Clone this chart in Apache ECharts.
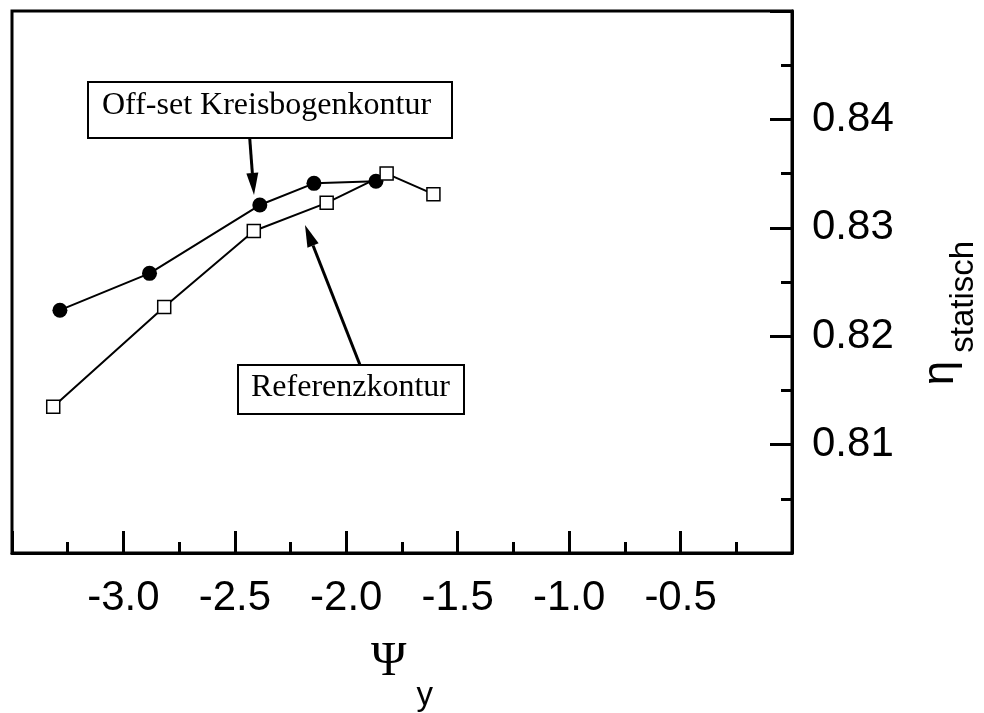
<!DOCTYPE html>
<html>
<head>
<meta charset="utf-8">
<script src="https://cdn.jsdelivr.net/npm/echarts@6/dist/echarts.min.js"></script>
<style>
  html, body { margin: 0; padding: 0; background: #fff; }
  #chart { width: 984px; height: 713px; }
</style>
</head>
<body>
<div id="chart"></div>
<script>
// Static efficiency versus the flow coefficient Psi_y for two blade contours
const offsetPsi = [-3.285, -2.883, -2.388, -2.145, -1.867];
const offsetEta = [0.8224, 0.8258, 0.8321, 0.8341, 0.8343];

const refPsi = [-3.315, -2.817, -2.415, -2.088, -1.819, -1.609];
const refEta = [0.8135, 0.8227, 0.8297, 0.8323, 0.8350, 0.8331];

// Axis ranges and tick spacing
const xRange = [-3.5, 0];
const xStep = 0.5;
const yRange = [0.80, 0.85];
const yStep = 0.01;

const SANS = '"Liberation Sans", Arial, sans-serif';
const SERIF = '"Liberation Serif", "Times New Roman", serif';

const zip = (xs, ys) => xs.map((x, i) => [x, ys[i]]);

const chart = echarts.init(document.getElementById('chart'), null, { renderer: 'canvas' });

const tickStyle = { color: '#000', width: 3 };

chart.setOption({
  animation: false,
  backgroundColor: '#fff',
  grid: {
    left: 12, right: 192, top: 11, bottom: 160,
    show: true, borderColor: '#000', borderWidth: 3,
    containLabel: false, outerBoundsMode: 'none'
  },
  xAxis: {
    type: 'value',
    min: xRange[0], max: xRange[1], interval: xStep,
    position: 'bottom',
    axisLine: { lineStyle: { color: '#000', width: 3 } },
    axisTick: { inside: true, length: 22, lineStyle: tickStyle },
    minorTick: { show: true, splitNumber: 2, length: 11, lineStyle: tickStyle },
    splitLine: { show: false },
    minorSplitLine: { show: false },
    axisLabel: {
      showMinLabel: false, showMaxLabel: false,
      formatter: v => v.toFixed(1),
      fontSize: 42, fontFamily: SANS, color: '#000', margin: 24
    },
    name: '{a|Ψ}{b|y}',
    nameLocation: 'middle',
    nameGap: 85,
    nameTextStyle: {
      rich: {
        a: { fontSize: 48, fontFamily: SERIF, color: '#000', verticalAlign: 'top', lineHeight: 48 },
        b: { fontSize: 33, fontFamily: SANS, color: '#000', verticalAlign: 'top', lineHeight: 33, padding: [41, 0, 0, 10] }
      }
    }
  },
  yAxis: {
    type: 'value',
    min: yRange[0], max: yRange[1], interval: yStep,
    position: 'right',
    axisLine: { show: true, lineStyle: { color: '#000', width: 3 } },
    axisTick: { show: true, inside: true, length: 22, lineStyle: tickStyle },
    minorTick: { show: true, splitNumber: 2, length: 11, lineStyle: tickStyle },
    splitLine: { show: false },
    minorSplitLine: { show: false },
    axisLabel: {
      showMinLabel: false, showMaxLabel: false,
      formatter: v => v.toFixed(2),
      fontSize: 42, fontFamily: SANS, color: '#000', margin: 20
    },
    name: '{a|η}{b|statisch}',
    nameLocation: 'middle',
    nameRotate: 90,
    nameGap: 127,
    nameTextStyle: {
      rich: {
        a: { fontSize: 44, fontFamily: SANS, color: '#000', verticalAlign: 'top', lineHeight: 44, padding: [0, 8, 0, 0] },
        b: { fontSize: 33, fontFamily: SANS, color: '#000', verticalAlign: 'top', lineHeight: 33, padding: [28, 62, 0, 0] }
      }
    }
  },
  series: [
    {
      name: 'Off-set Kreisbogenkontur',
      type: 'line',
      data: zip(offsetPsi, offsetEta),
      symbol: 'circle',
      symbolSize: 15,
      itemStyle: { color: '#000' },
      lineStyle: { color: '#000', width: 2 },
      z: 2
    },
    {
      name: 'Referenzkontur',
      type: 'line',
      data: zip(refPsi, refEta),
      symbol: 'rect',
      symbolSize: 13,
      itemStyle: { color: '#fff', borderColor: '#000', borderWidth: 1.5 },
      lineStyle: { color: '#000', width: 2 },
      z: 3
    }
  ]
});

// Annotation callouts: boxed labels with arrows pointing at the curves
function arrow(tail, tip, headLen, headHalf) {
  const dx = tip[0] - tail[0], dy = tip[1] - tail[1];
  const len = Math.hypot(dx, dy);
  const ux = dx / len, uy = dy / len;
  const bx = tip[0] - ux * headLen, by = tip[1] - uy * headLen;
  return [
    { type: 'line', shape: { x1: tail[0], y1: tail[1], x2: bx, y2: by },
      style: { stroke: '#000', lineWidth: 3 }, z: 10 },
    { type: 'polygon', shape: { points: [tip, [bx - uy * headHalf, by + ux * headHalf], [bx + uy * headHalf, by - ux * headHalf]] },
      style: { fill: '#000' }, z: 10 }
  ];
}

const callouts = [
  { text: 'Off-set Kreisbogenkontur', box: [88, 82, 364, 56], textPos: [102, 106], tail: [249.7, 138], tip: [254, 195] },
  { text: 'Referenzkontur', box: [238, 365, 226, 49], textPos: [251, 387.5], tail: [360, 365], tip: [305, 225] }
];

const graphics = [];
callouts.forEach(c => {
  graphics.push({
    type: 'rect', shape: { x: c.box[0], y: c.box[1], width: c.box[2], height: c.box[3] },
    style: { fill: '#fff', stroke: '#000', lineWidth: 2 }, z: 10
  });
  graphics.push({
    type: 'text', x: c.textPos[0], y: c.textPos[1],
    style: { text: c.text, font: '32px ' + SERIF, fill: '#000', textAlign: 'left', textVerticalAlign: 'middle', verticalAlign: 'middle' },
    z: 11
  });
  graphics.push(...arrow(c.tail, c.tip, 22, 6));
});

chart.setOption({ graphic: graphics });
</script>
</body>
</html>
